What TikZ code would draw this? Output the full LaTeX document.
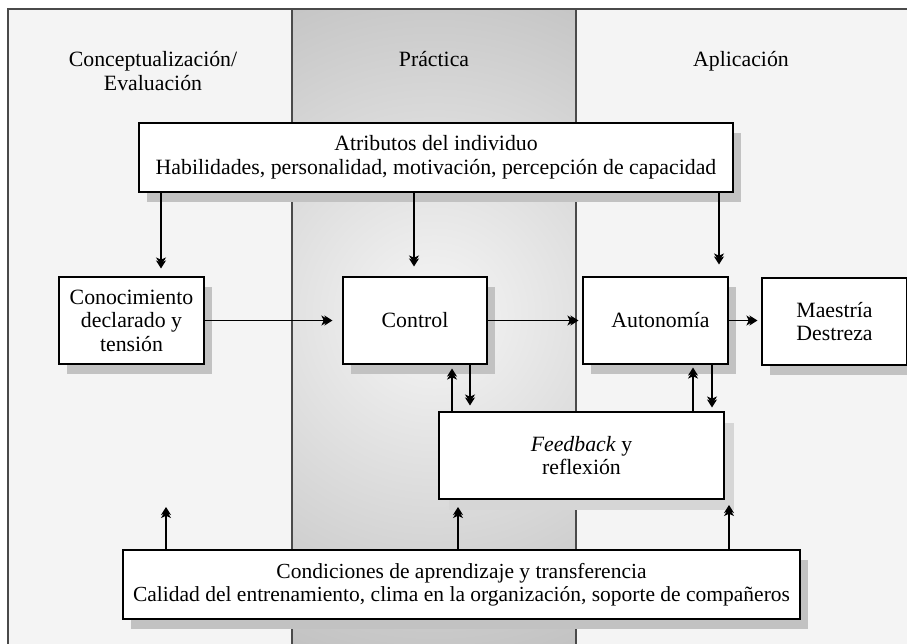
\documentclass[tikz,border=0pt]{standalone}
\usepackage{fontspec}
\setmainfont{Liberation Serif}
\usetikzlibrary{arrows.meta,shadows}
\definecolor{colbg}{HTML}{F4F4F4}
\definecolor{shin}{HTML}{F6F6F6}
\definecolor{shout}{HTML}{9A9A9A}
\definecolor{framecol}{HTML}{4A4A4A}
\definecolor{shadowgray}{HTML}{C2C2C2}
\definecolor{shadowlight}{HTML}{D6D6D6}
\begin{document}
\begin{tikzpicture}[x=1pt,y=-1pt,
  font=\fontsize{21.8}{23.5}\selectfont,
  bx/.style={draw=black, line width=1.1pt, fill=white, align=center, inner sep=0pt,
    general shadow={fill=shadowgray, shadow xshift=8pt, shadow yshift=-10pt}},
  bxl/.style={draw=black, line width=1.1pt, fill=white, align=center, inner sep=0pt,
    general shadow={fill=shadowlight, shadow xshift=10pt, shadow yshift=-11pt}},
  arr/.style={line width=1.1pt, -{Stealth[length=8pt,width=10pt,inset=2.2pt,sep=-5pt]Stealth[length=8pt,width=10pt,inset=2.2pt]}},
  title/.style={align=center, inner sep=0pt}]
\useasboundingbox (0,0) rectangle (907,643);
\begin{scope}
\clip (0,0) rectangle (907,643);
\fill[white] (0,0) rectangle (907,643);
\fill[colbg] (8,9) rectangle (292,700);
\fill[colbg] (576,9) rectangle (920,700);
\begin{scope}
\clip (292,9) rectangle (576,700);
\shade[inner color=shin, outer color=shout] (434,315) circle (640pt);
\end{scope}
\draw[framecol, line width=1.5pt] (8,700) -- (8,9) -- (920,9);
\draw[framecol, line width=1.5pt] (292,9) -- (292,700);
\draw[framecol, line width=1.5pt] (576,9) -- (576,700);

\node[title] (t1) at (153,71) {Conceptualización/\\Evaluación};
\node[title, anchor=base] (t2) at (434,66) {Práctica};
\node[title, anchor=base] (t3) at (741,66) {Aplicación};

\node[bx, minimum width=594pt, minimum height=69pt] (attr) at (436,157.5)
  {Atributos del individuo\\Habilidades, personalidad, motivación, percepción de capacidad};
\node[bx, minimum width=145pt, minimum height=87pt] (con) at (131.5,320.5)
  {Conocimiento\\declarado y\\tensión};
\node[bx, minimum width=144pt, minimum height=87pt] (ctrl) at (415,320.5) {Control};
\node[bx, minimum width=145pt, minimum height=87pt] (auto) at (655.5,320.5) {\hspace*{10pt}Autonomía};
\node[bx, minimum width=145pt, minimum height=87pt] (maes) at (834.5,321.5) {Maestría\\Destreza};
\node[bxl, minimum width=285pt, minimum height=87pt] (feed) at (581.5,455.5)
  {\textit{Feedback} y\\reflexión};
\node[bx, minimum width=677pt, minimum height=69pt, font=\fontsize{21.5}{23}\selectfont] (cond) at (461.5,584.5)
  {Condiciones de aprendizaje y transferencia\\Calidad del entrenamiento, clima en la organización, soporte de compañeros};

% from attributes
\draw[arr] ([xshift=29.5pt]con.north |- attr.south) -- ([xshift=29.5pt,yshift=8pt]con.north);
\draw[arr] ([xshift=-1pt]ctrl.north |- attr.south) -- ([xshift=-1pt,yshift=10pt]ctrl.north);
\draw[arr] ([xshift=63.5pt]auto.north |- attr.south) -- ([xshift=63.5pt,yshift=12pt]auto.north);
% horizontal chain
\draw[arr, shorten >=10pt] (con.east) -- (ctrl.west);
\draw[arr, shorten >=4pt] (ctrl.east) -- (auto.west);
\draw[arr, shorten >=4pt] (auto.east) -- (maes.west |- auto.east);
% feedback loops
\draw[arr] ([xshift=37pt]ctrl.south |- feed.north) -- ([xshift=37pt,yshift=-4pt]ctrl.south);
\draw[arr, shorten >=6pt] ([xshift=55pt]ctrl.south) -- ([xshift=55pt]ctrl.south |- feed.north);
\draw[arr] ([xshift=37.5pt]auto.south |- feed.north) -- ([xshift=37.5pt,yshift=-3pt]auto.south);
\draw[arr, shorten >=4pt] ([xshift=56.5pt]auto.south) -- ([xshift=56.5pt]auto.south |- feed.north);
% from conditions
\coordinate (u1) at (166,507);
\coordinate (u2) at (458,507);
\coordinate (u3) at (729,505);
\draw[arr] (cond.north -| u1) -- (u1);
\draw[arr] (cond.north -| u2) -- (u2);
\draw[arr] (cond.north -| u3) -- (u3);
\end{scope}
\end{tikzpicture}
\end{document}
